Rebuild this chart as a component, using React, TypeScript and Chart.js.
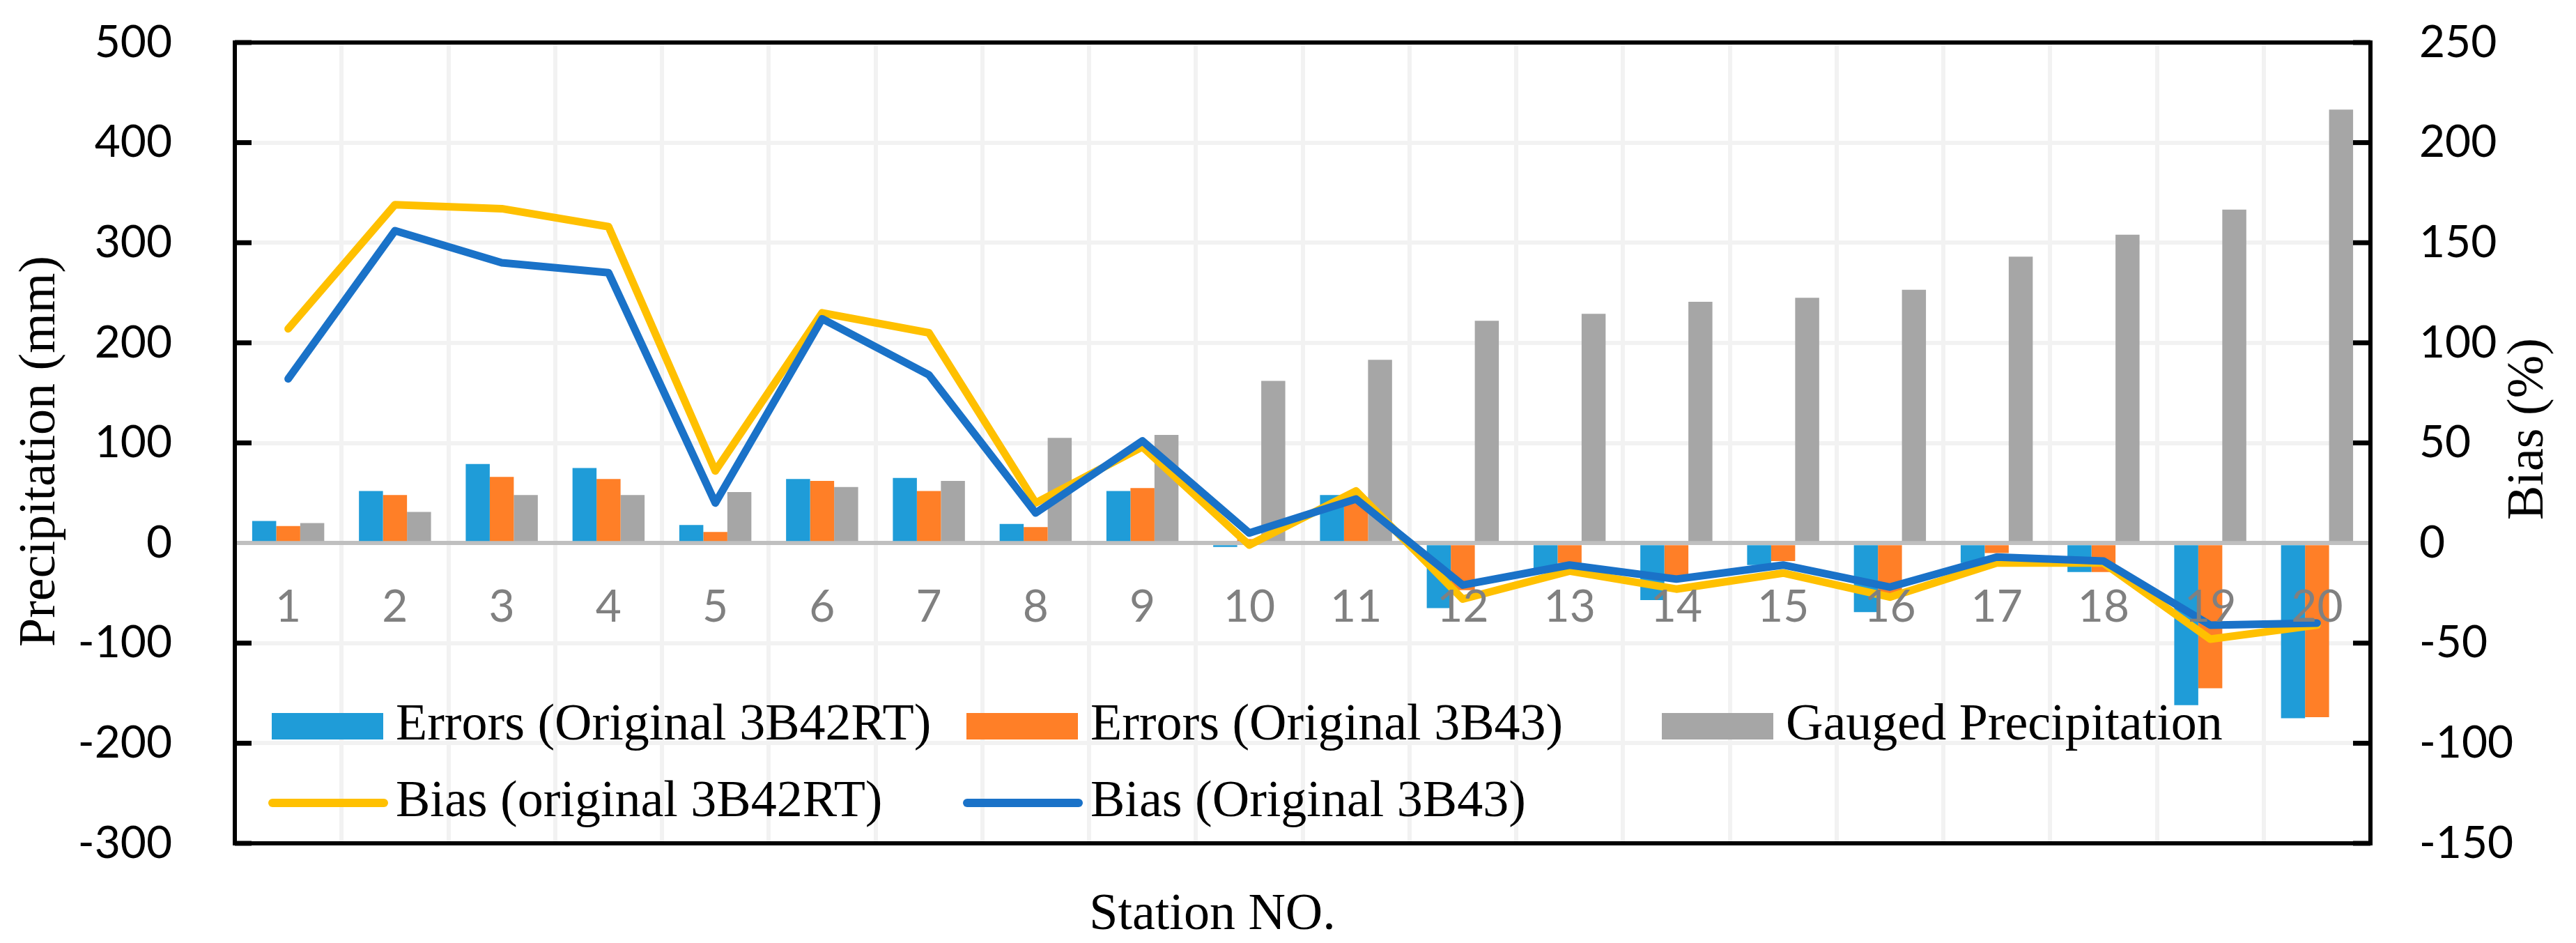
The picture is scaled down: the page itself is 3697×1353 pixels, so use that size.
import { useEffect, useRef } from "react"
import { Chart, registerables } from "chart.js"

Chart.register(...registerables)

// station numbers
const stations = ["1", "2", "3", "4", "5", "6", "7", "8", "9", "10", "11", "12", "13", "14", "15", "16", "17", "18", "19", "20"]

// errors (mm), left axis
const errors3B42RT = [22, 52, 79, 75, 18, 64, 65, 19, 52, -4, 48, -65, -25, -57, -22, -69, -20, -29, -162, -175]
const errors3B43 = [17, 48, 66, 64, 11, 62, 52, 16, 55, 4, 40, -47, -20, -35, -18, -55, -10, -29, -145, -174]
const gaugedPrecip = [20, 31, 48, 48, 51, 56, 62, 105, 108, 162, 183, 222, 229, 241, 245, 253, 286, 308, 333, 433]

// bias (%), right axis
const bias3B42RT = [107, 169, 167, 158, 36, 115, 105, 20, 48, -1, 26, -28, -14, -23, -15, -27, -10, -10, -48, -41]
const bias3B43 = [82, 156, 140, 135, 20, 112, 84, 15, 51, 5, 22, -21, -11, -18, -11, -22, -7, -9, -41, -40]

const SERIF = "'Liberation Serif', 'Times New Roman', serif"
const SANS = "Lato, Carlito, Calibri, sans-serif"

// frame, inward ticks, legend grid and axis titles the way Excel lays them out
const excelDecor = {
  id: "excelDecor",
  afterDraw(chart: any) {
    const { ctx, chartArea: a, scales } = chart
    ctx.save()

    // inward tick marks
    ctx.strokeStyle = "#000"
    ctx.lineWidth = 7
    ctx.lineCap = "butt"
    scales.y.ticks.forEach((t: any) => {
      if (t.value === 0) return
      const y = scales.y.getPixelForValue(t.value)
      ctx.beginPath()
      ctx.moveTo(a.left, y)
      ctx.lineTo(a.left + 24, y)
      ctx.stroke()
    })
    scales.y1.ticks.forEach((t: any) => {
      if (t.value === 0) return
      const y = scales.y1.getPixelForValue(t.value)
      ctx.beginPath()
      ctx.moveTo(a.right - 25, y)
      ctx.lineTo(a.right, y)
      ctx.stroke()
    })

    // plot border
    ctx.lineWidth = 6
    ctx.strokeRect(a.left, a.top, a.right - a.left, a.bottom - a.top)

    // legend (two rows, three columns)
    const cols = [a.left + 53, a.left + 1050, a.left + 2048]
    const rows = [a.bottom - 168, a.bottom - 58]
    const slots = [[0, 0], [1, 0], [2, 0], [0, 1], [1, 1]]
    ctx.font = `74px ${SERIF}`
    ctx.textBaseline = "middle"
    ctx.textAlign = "left"
    chart.data.datasets.forEach((ds: any, i: number) => {
      const [c, r] = slots[i]
      const x = cols[c]
      const y = rows[r]
      if (ds.type === "line") {
        ctx.strokeStyle = ds.borderColor
        ctx.lineWidth = 12
        ctx.lineCap = "round"
        ctx.beginPath()
        ctx.moveTo(x + 1, y)
        ctx.lineTo(x + 161, y)
        ctx.stroke()
      } else {
        ctx.fillStyle = ds.backgroundColor
        ctx.fillRect(x, y - 19, 160, 38)
      }
      ctx.fillStyle = "#000"
      ctx.fillText(ds.label, x + 178, y)
    })

    // axis titles
    ctx.fillStyle = "#000"
    ctx.textAlign = "center"
    ctx.textBaseline = "middle"
    const midY = (a.top + a.bottom) / 2

    ctx.save()
    ctx.translate(59, midY + 12)
    ctx.rotate(-Math.PI / 2)
    ctx.fillText("Precipitation (mm)", 0, 0)
    ctx.restore()

    ctx.save()
    ctx.translate(3630, midY - 20)
    ctx.rotate(-Math.PI / 2)
    ctx.fillText("Bias (%)", 0, 0)
    ctx.restore()

    ctx.textBaseline = "alphabetic"
    ctx.fillText("Station NO.", a.left + 1403, a.bottom + 123)

    ctx.restore()
  },
}

export default function App() {
  const canvasRef = useRef<HTMLCanvasElement>(null)
  const chartRef = useRef<Chart | null>(null)

  useEffect(() => {
    document.body.style.margin = "0"
    if (!canvasRef.current) return
    if (chartRef.current) chartRef.current.destroy()

    const tickFont = { family: SANS, size: 64 }

    chartRef.current = new Chart(canvasRef.current, {
      type: "bar",
      data: {
        labels: stations,
        datasets: [
          {
            type: "bar",
            label: "Errors (Original 3B42RT)",
            data: errors3B42RT,
            backgroundColor: "#1F9CD8",
            yAxisID: "y",
            order: 2,
          },
          {
            type: "bar",
            label: "Errors (Original 3B43)",
            data: errors3B43,
            backgroundColor: "#FF7F27",
            yAxisID: "y",
            order: 2,
          },
          {
            type: "bar",
            label: "Gauged Precipitation",
            data: gaugedPrecip,
            backgroundColor: "#A6A6A6",
            yAxisID: "y",
            order: 2,
          },
          {
            type: "line",
            label: "Bias (original 3B42RT)",
            data: bias3B42RT,
            borderColor: "#FFC000",
            backgroundColor: "#FFC000",
            borderWidth: 11,
            pointRadius: 0,
            tension: 0,
            borderCapStyle: "round",
            borderJoinStyle: "round",
            yAxisID: "y1",
            order: 1,
          },
          {
            type: "line",
            label: "Bias (Original 3B43)",
            data: bias3B43,
            borderColor: "#1A72C8",
            backgroundColor: "#1A72C8",
            borderWidth: 11,
            pointRadius: 0,
            tension: 0,
            borderCapStyle: "round",
            borderJoinStyle: "round",
            yAxisID: "y1",
            order: 0,
          },
        ] as any,
      },
      options: {
        responsive: true,
        maintainAspectRatio: false,
        animation: false,
        events: [],
        layout: { padding: { top: 61, bottom: 143, left: 0, right: 0 } },
        datasets: {
          bar: { barPercentage: 1, categoryPercentage: 0.675 },
        },
        plugins: {
          legend: { display: false },
          tooltip: { enabled: false },
          title: { display: false },
        },
        scales: {
          x: {
            position: { y: 0 } as any,
            grid: { color: "#F2F2F2", lineWidth: 6, drawTicks: false, offset: true },
            border: { display: true, color: "#BFBFBF", width: 6 },
            ticks: {
              color: "#808080",
              font: tickFont,
              padding: 54,
              autoSkip: false,
              maxRotation: 0,
              z: 1,
            },
          },
          y: {
            position: "left",
            min: -300,
            max: 500,
            // invisible tick marks keep the labels away from the frame
            grid: { color: "#F2F2F2", lineWidth: 6, drawTicks: true, tickLength: 90, tickColor: "rgba(0,0,0,0)" },
            border: { display: false },
            ticks: { stepSize: 100, color: "#000", font: tickFont, padding: 0 },
            afterFit: (scale: any) => {
              scale.width = 337
            },
          },
          y1: {
            position: "right",
            min: -150,
            max: 250,
            grid: { drawOnChartArea: false, drawTicks: true, tickLength: 70, tickColor: "rgba(0,0,0,0)" },
            border: { display: false },
            ticks: { stepSize: 50, color: "#000", font: tickFont, padding: 0 },
            afterFit: (scale: any) => {
              scale.width = 295
            },
          },
        },
      },
      plugins: [excelDecor],
    })

    return () => {
      if (chartRef.current) {
        chartRef.current.destroy()
        chartRef.current = null
      }
    }
  }, [])

  return (
    <div style={{ width: "3697px", height: "1353px", position: "relative", background: "#fff" }}>
      <canvas ref={canvasRef} />
    </div>
  )
}
